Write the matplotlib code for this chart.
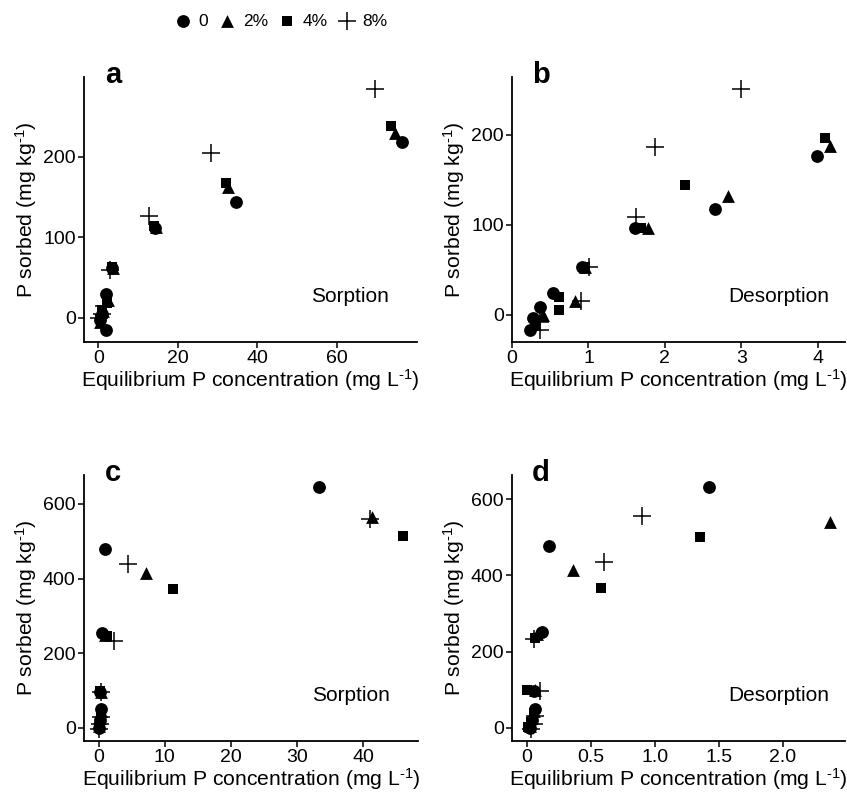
import matplotlib
matplotlib.use("Agg")
import matplotlib.pyplot as plt
import numpy as np

plt.rcParams['font.family'] = ['Liberation Sans', 'DejaVu Sans']
plt.rcParams['mathtext.fontset'] = 'custom'
plt.rcParams['mathtext.rm'] = 'Liberation Sans'
plt.rcParams['mathtext.it'] = 'Liberation Sans:italic'
plt.rcParams['mathtext.bf'] = 'Liberation Sans:bold'

series = ["0", "2%", "4%", "8%"]

# Panel a: Sorption (soil 1)
a_x = {"0":  [0.3, 1.0, 2.0, 2.0, 3.5, 14.3, 34.5, 76.3],
       "2%": [0.5, 1.2, 2.5, 3.8, 14.5, 32.5, 74.5],
       "4%": [0.3, 1.0, 2.2, 3.5, 14.0, 32.0, 73.5],
       "8%": [0.2, 0.8, 1.5, 3.0, 12.8, 28.3, 69.5]}
a_y = {"0":  [-3, 5, 30, -15, 62, 111, 144, 218],
       "2%": [-5, 8, 22, 62, 113, 162, 230],
       "4%": [-2, 10, 18, 63, 114, 168, 238],
       "8%": [0, 5, 15, 60, 127, 205, 284]}

# Panel b: Desorption (soil 1)
b_x = {"0":  [0.23, 0.27, 0.36, 0.53, 0.92, 1.61, 2.65, 3.99],
       "2%": [0.30, 0.40, 0.83, 0.95, 1.78, 2.82, 4.16],
       "4%": [0.32, 0.62, 0.62, 0.96, 1.69, 2.26, 4.10],
       "8%": [0.36, 0.37, 0.90, 1.01, 1.62, 1.87, 3.00]}
b_y = {"0":  [-17, -4, 9, 24, 53, 96, 118, 177],
       "2%": [-10, 0, 15, 53, 96, 132, 188],
       "4%": [-6, 5, 20, 53, 96, 144, 197],
       "8%": [-17, -8, 15, 53, 109, 186, 251]}

# Panel c: Sorption (soil 2)
c_x = {"0":  [0.1, 0.2, 0.3, 0.2, 0.5, 1.0, 33.3],
       "2%": [0.1, 0.2, 0.3, 0.3, 1.0, 7.2, 41.3],
       "4%": [0.1, 0.2, 0.3, 0.2, 1.3, 11.3, 46.0],
       "8%": [0.1, 0.2, 0.3, 0.4, 2.4, 4.5, 41.0]}
c_y = {"0":  [0, 20, 50, 97, 255, 480, 645],
       "2%": [5, 25, 45, 95, 248, 415, 565],
       "4%": [3, 15, 40, 98, 245, 372, 515],
       "8%": [-3, 10, 30, 95, 232, 440, 560]}

# Panel d: Desorption (soil 2)
d_x = {"0":  [0.02, 0.04, 0.06, 0.05, 0.12, 0.17, 1.42],
       "2%": [0.02, 0.04, 0.05, 0.06, 0.08, 0.36, 2.37],
       "4%": [0.01, 0.03, 0.05, 0.00, 0.06, 0.58, 1.35],
       "8%": [0.03, 0.05, 0.06, 0.10, 0.05, 0.60, 0.90]}
d_y = {"0":  [0, 20, 50, 96, 252, 478, 632],
       "2%": [5, 25, 45, 98, 245, 415, 540],
       "4%": [3, 15, 40, 99, 235, 368, 500],
       "8%": [-3, 10, 30, 96, 232, 435, 555]}

panel_letters = ["a", "b", "c", "d"]
panel_text = ["Sorption", "Desorption", "Sorption", "Desorption"]
xticks = [[0, 20, 40, 60], [0, 1, 2, 3, 4], [0, 10, 20, 30, 40], [0, 0.5, 1.0, 1.5, 2.0]]
xticklabels = [["0", "20", "40", "60"], ["0", "1", "2", "3", "4"],
               ["0", "10", "20", "30", "40"], ["0", "0.5", "1.0", "1.5", "2.0"]]
yticks = [[0, 100, 200], [0, 100, 200], [0, 200, 400, 600], [0, 200, 400, 600]]

markers = {"0": ("o", 85), "2%": ("^", 85), "4%": ("s", 62), "8%": ("+", 150)}

W, H = 847, 796
fig = plt.figure(figsize=(W / 100, H / 100), dpi=100)

rects_px = [(84, 417, 77, 342), (512, 845, 77, 342),
            (84, 418, 475, 741), (512, 845, 475, 741)]

data = [(a_x, a_y), (b_x, b_y), (c_x, c_y), (d_x, d_y)]

xlab = r"Equilibrium P concentration (mg L$^{\text{-}1}$)"
ylab = r"P sorbed (mg kg$^{\text{-}1}$)"

for i, (l, r, t, b) in enumerate(rects_px):
    ax = fig.add_axes([l / W, 1 - b / H, (r - l) / W, (b - t) / H])
    xs, ys = data[i]
    allx = np.concatenate([xs[k] for k in series])
    ally = np.concatenate([ys[k] for k in series])
    for k in series:
        m, s = markers[k]
        if m == "+":
            ax.scatter(xs[k], ys[k], marker=m, s=s, c="black", linewidths=1.1, label=k)
        else:
            ax.scatter(xs[k], ys[k], marker=m, s=s, c="black", linewidths=0, label=k)
    rx = allx.max() - allx.min()
    ry = ally.max() - ally.min()
    ax.set_xlim(allx.min() - 0.05 * rx, allx.max() + 0.05 * rx)
    ax.set_ylim(ally.min() - 0.05 * ry, ally.max() + 0.05 * ry)
    ax.set_xticks(xticks[i])
    ax.set_xticklabels(xticklabels[i])
    ax.set_yticks(yticks[i])
    for sp in ["top", "right"]:
        ax.spines[sp].set_visible(False)
    for sp in ["left", "bottom"]:
        ax.spines[sp].set_linewidth(1.3)
    ax.tick_params(axis="both", direction="out", length=4, width=1.1,
                   labelsize=14, colors="black", pad=2)
    ax.set_xlabel(xlab, fontsize=15.2, labelpad=0)
    ax.set_ylabel(ylab, fontsize=15.2, labelpad=3)
    ax.text(0.087, 1.008, panel_letters[i], transform=ax.transAxes, fontsize=21,
            fontweight="bold", va="center", ha="center")
    ax.text(0.80, 0.17, panel_text[i], transform=ax.transAxes, fontsize=15,
            va="center", ha="center")
    if i == 0:
        handles, labels = ax.get_legend_handles_labels()

fig.legend(handles, labels, loc="center", bbox_to_anchor=(281 / W, 1 - 21 / H),
           ncol=4, frameon=False, fontsize=12.5, handletextpad=0.4,
           columnspacing=0.6, handlelength=1.0, markerscale=1.0)

fig.savefig("out.png", dpi=100)
